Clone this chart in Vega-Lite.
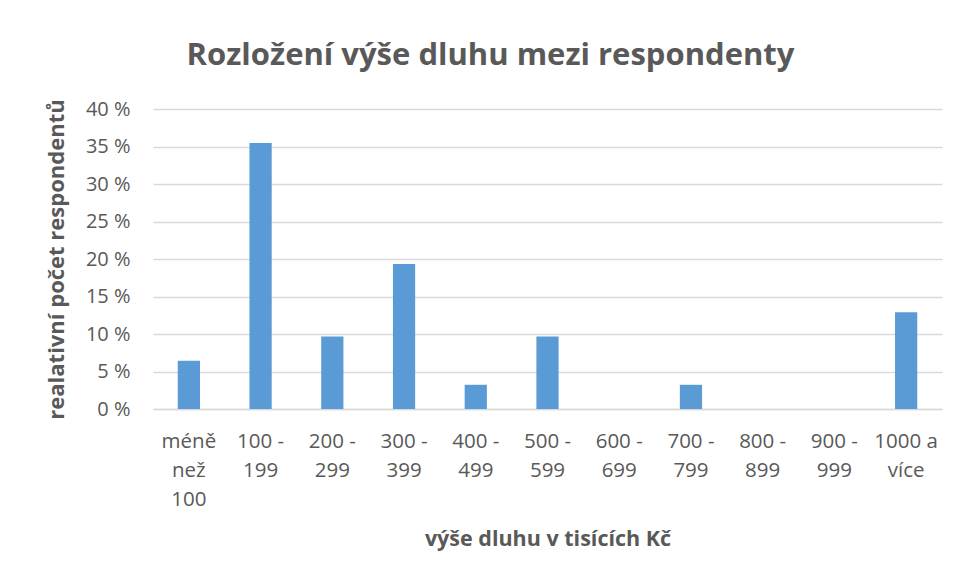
{
  "$schema": "https://vega.github.io/schema/vega-lite/v6.json",
  "autosize": {"type": "none"},
  "width": 789,
  "height": 300,
  "padding": {"left": 153, "top": 109, "right": 15, "bottom": 171},
  "background": "white",
  "config": {
    "view": {"stroke": null},
    "font": "Open Sans",
    "axis": {"labelColor": "#595959", "titleColor": "#595959", "labelFont": "Open Sans", "titleFont": "Open Sans"}
  },
  "title": {
    "text": "Rozložení výše dluhu mezi respondenty",
    "fontSize": 31,
    "fontWeight": "bold",
    "color": "#595959",
    "font": "Open Sans",
    "anchor": "middle",
    "dx": -57,
    "offset": 27
  },
  "data": {
    "values": [
      {"kategorie": "méně než 100", "podil": 0.0645},
      {"kategorie": "100 - 199", "podil": 0.3548},
      {"kategorie": "200 - 299", "podil": 0.0968},
      {"kategorie": "300 - 399", "podil": 0.1935},
      {"kategorie": "400 - 499", "podil": 0.0323},
      {"kategorie": "500 - 599", "podil": 0.0968},
      {"kategorie": "600 - 699", "podil": 0},
      {"kategorie": "700 - 799", "podil": 0.0323},
      {"kategorie": "800 - 899", "podil": 0},
      {"kategorie": "900 - 999", "podil": 0},
      {"kategorie": "1000 a více", "podil": 0.129}
    ]
  },
  "mark": {"type": "bar", "color": "#5B9BD5"},
  "encoding": {
    "x": {
      "field": "kategorie",
      "type": "nominal",
      "sort": null,
      "scale": {"paddingInner": 0.69, "paddingOuter": 0.345},
      "axis": {
        "title": "výše dluhu v tisících Kč",
        "titleFontSize": 21.5,
        "titleFontWeight": "bold",
        "titlePadding": 19,
        "labelAngle": 0,
        "labelFontSize": 20.5,
        "labelLineHeight": 29,
        "labelPadding": 22,
        "labelBaseline": "top",
        "ticks": false,
        "domainColor": "#d9d9d9",
        "domainWidth": 1.5,
        "labelExpr": "datum.label == 'méně než 100' ? ['méně', 'než', '100'] : datum.label == '1000 a více' ? ['1000 a', 'více'] : [split(datum.label, ' - ')[0] + ' -', split(datum.label, ' - ')[1]]"
      }
    },
    "y": {
      "field": "podil",
      "type": "quantitative",
      "scale": {"domain": [0, 0.4]},
      "axis": {
        "title": "realativní počet respondentů",
        "titleFontSize": 22,
        "titleFontWeight": "bold",
        "titlePadding": 17,
        "values": [0, 0.05, 0.1, 0.15, 0.2, 0.25, 0.3, 0.35, 0.4],
        "format": ".0%",
        "labelExpr": "replace(datum.label, '%', ' %')",
        "labelFontSize": 20,
        "labelPadding": 23,
        "ticks": false,
        "domain": false,
        "gridColor": "#d9d9d9",
        "gridWidth": 1.5
      }
    }
  }
}
